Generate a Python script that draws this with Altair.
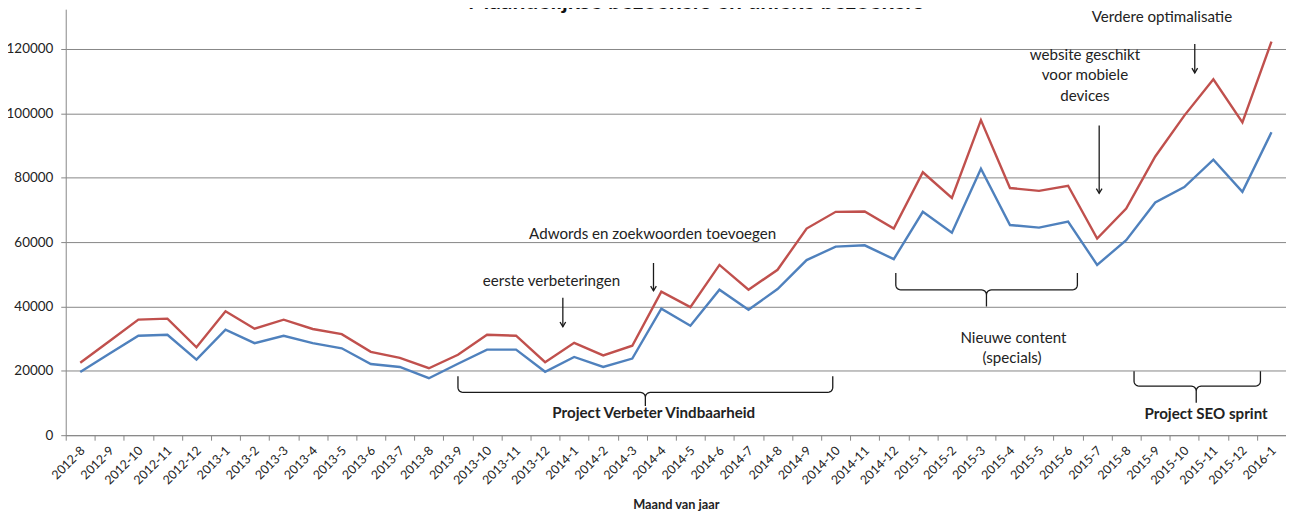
import math
import altair as alt
import pandas as pd

# ---------------- data ----------------
labels = ["2012-8", "2012-9", "2012-10", "2012-11", "2012-12",
          "2013-1", "2013-2", "2013-3", "2013-4", "2013-5", "2013-6",
          "2013-7", "2013-8", "2013-9", "2013-10", "2013-11", "2013-12",
          "2014-1", "2014-2", "2014-3", "2014-4", "2014-5", "2014-6",
          "2014-7", "2014-8", "2014-9", "2014-10", "2014-11", "2014-12",
          "2015-1", "2015-2", "2015-3", "2015-4", "2015-5", "2015-6",
          "2015-7", "2015-8", "2015-9", "2015-10", "2015-11", "2015-12",
          "2016-1"]

bezoeken = [22500, 29200, 35900, 36200, 27300,
            38500, 33100, 35900, 33000, 31400, 25900,
            24000, 20800, 25000, 31200, 30900, 22700,
            28700, 24800, 27800, 44600, 39800, 52900,
            45200, 51400, 64200, 69400, 69500, 64200,
            81700, 73700, 97900, 76800, 75900, 77500,
            61100, 70400, 86600, 99300, 110600, 97200,
            122300]

unieke = [19600, 25300, 30900, 31200, 23500,
          32800, 28600, 30900, 28600, 27000, 22100,
          21200, 17700, 22200, 26600, 26600, 19700,
          24300, 21200, 23800, 39300, 34000, 45200,
          39000, 45400, 54400, 58600, 59000, 54700,
          69400, 62900, 82800, 65300, 64500, 66400,
          52900, 60600, 72300, 77100, 85600, 75600,
          94100]

series_names = ["Bezoeken", "Unieke bezoekers"]
series_colors = ["#C0504D", "#4F81BD"]

y_ticks = [0, 20000, 40000, 60000, 80000, 100000, 120000]

title_text = "Maandelijkse bezoekers en unieke bezoekers"
title_x = [21.19]
title_y = [132450]

ann_text = ["eerste verbeteringen", "Adwords en zoekwoorden toevoegen",
            "website geschikt", "voor mobiele", "devices",
            "Verdere optimalisatie", "Nieuwe content", "(specials)"]
ann_x = [16.22, 19.70, 34.58, 34.58, 34.58, 37.23, 32.12, 32.07]
ann_y = [47940, 62380, 118140, 111960, 105460, 130000, 30210, 24030]

bold_text = ["Project Verbeter Vindbaarheid", "Project SEO sprint"]
bold_x = [19.74, 38.75]
bold_y = [7010, 6710]

arrow_x = [16.61, 19.73, 35.07, 38.36]
arrow_top = [42680, 53510, 96190, 121550]
arrow_tip = [33710, 44850, 75150, 112580]

brace_start = [13.0, 28.07, 36.27]
brace_mid = [19.45, 31.19, 38.41]
brace_end = [25.9, 34.32, 40.62]
brace_top = [18340, 50410, 19890]
brace_line = [13300, 45150, 15250]
brace_tip = [9060, 39990, 10110]

# ---------------- geometry ----------------
W, H = 1226, 428
N = len(labels)
YMAX = 132370
PX_X = W / N
VAL_PER_PX = YMAX / H

FONT = "Lato"
GRID = "#868686"
INK = "#1a1a1a"

# ---------------- tables ----------------
rows = []
for name, vals in zip(series_names, [bezoeken, unieke]):
    for i, v in enumerate(vals):
        rows.append({"i": i, "v": v, "series": name})
df_lines = pd.DataFrame(rows)

df_ann = pd.DataFrame({"i": ann_x, "v": ann_y, "t": ann_text})
df_bold = pd.DataFrame({"i": bold_x, "v": bold_y, "t": bold_text})
df_title = pd.DataFrame({"i": title_x, "v": title_y, "t": [title_text]})
df_arrow = pd.DataFrame({"i": arrow_x, "v": arrow_top, "v2": arrow_tip})
df_head = pd.DataFrame({"i": arrow_x, "v": arrow_tip})


def to_px(x, v):
    return (x + 0.5) * PX_X, H - v / VAL_PER_PX


def to_data(px, py):
    return px / PX_X - 0.5, (H - py) * VAL_PER_PX


def arc(cx, cy, r, a0, a1, n=6):
    return [(cx + r * math.cos(a0 + (a1 - a0) * k / n),
             cy + r * math.sin(a0 + (a1 - a0) * k / n)) for k in range(n + 1)]


brace_rows = []
for b in range(len(brace_start)):
    xa, _ = to_px(brace_start[b], 0)
    xc, _ = to_px(brace_mid[b], 0)
    xb, _ = to_px(brace_end[b], 0)
    _, yt = to_px(0, brace_top[b])
    _, ym = to_px(0, brace_line[b])
    _, yc = to_px(0, brace_tip[b])
    r = 5
    pts = [(xa, yt)]
    pts += arc(xa + r, ym - r, r, math.pi, math.pi / 2)
    pts += arc(xc - r, ym + r, r, -math.pi / 2, 0)
    pts += [(xc, yc)]
    pts += arc(xc + r, ym + r, r, math.pi, 1.5 * math.pi)
    pts += arc(xb - r, ym - r, r, math.pi / 2, 0)
    pts += [(xb, yt)]
    for k, (px, py) in enumerate(pts):
        dx, dv = to_data(px, py)
        brace_rows.append({"b": b, "k": k, "i": dx, "v": dv})
df_brace = pd.DataFrame(brace_rows)

# ---------------- encodings ----------------
label_array = "[" + ",".join("'" + s + "'" for s in labels) + "]"
x_axis = alt.Axis(
    values=[k - 0.5 for k in range(N + 1)],
    labelExpr=label_array + "[datum.value + 0.5] || ''",
    labelAngle=-45, labelAlign="right", labelBaseline="middle",
    labelOffset=PX_X / 2 + 2, labelPadding=8,
    labelFont=FONT, labelFontSize=12.5, labelColor="#222222",
    labelFlush=False, labelOverlap=False,
    tickSize=5, tickColor=GRID, domainColor=GRID, grid=False,
    title="Maand van jaar", titleFont=FONT, titleFontSize=12.8,
    titleFontWeight="bold", titleColor="#222222",
    titleY=70, titleBaseline="middle",
)
y_axis = alt.Axis(
    values=y_ticks, format="d", grid=True, gridColor=GRID,
    domainColor=GRID, tickColor=GRID, tickSize=5,
    labelFont=FONT, labelFontSize=13.5, labelColor="#222222",
    labelPadding=8, title=None,
)
x_enc = alt.X("i:Q", scale=alt.Scale(domain=[-0.5, N - 0.5], nice=False, zero=False), axis=x_axis)
y_enc = alt.Y("v:Q", scale=alt.Scale(domain=[0, YMAX], nice=False), axis=y_axis)

lines = alt.Chart(df_lines).mark_line(strokeWidth=2.4).encode(
    x=x_enc, y=y_enc,
    color=alt.Color("series:N", scale=alt.Scale(domain=series_names, range=series_colors), legend=None),
)

ann = alt.Chart(df_ann).mark_text(font=FONT, fontSize=15.2, color="#222222",
                                  align="center", baseline="middle").encode(
    x=x_enc, y=y_enc, text="t:N")

bold = alt.Chart(df_bold).mark_text(font=FONT, fontSize=15.2, fontWeight="bold", color="#222222",
                                    align="center", baseline="middle").encode(
    x=x_enc, y=y_enc, text="t:N")

title = alt.Chart(df_title).mark_text(font=FONT, fontSize=23, fontWeight="bold", color="#111111",
                                      align="center", baseline="alphabetic").encode(
    x=x_enc, y=y_enc, text="t:N")

arrows = alt.Chart(df_arrow).mark_rule(strokeWidth=1.3, color=INK).encode(
    x=x_enc, y=y_enc, y2="v2:Q")

heads = alt.Chart(df_head).mark_point(shape="M-0.6,-1L0,0L0.6,-1", filled=False, size=90,
                                      strokeWidth=1.3, color=INK, opacity=1).encode(
    x=x_enc, y=y_enc)

braces = alt.Chart(df_brace).mark_line(strokeWidth=1.3, color=INK).encode(
    x=x_enc, y=y_enc, detail="b:N", order="k:Q")

chart = alt.layer(lines, braces, arrows, heads, ann, bold, title).properties(
    width=W, height=H,
    padding={"left": 58, "top": 0, "right": 0, "bottom": 78},
    autosize=alt.AutoSizeParams(type="none"),
    background="white",
).configure_view(stroke=None)

chart.save("out.html", embed_options={"renderer": "svg", "actions": False})
